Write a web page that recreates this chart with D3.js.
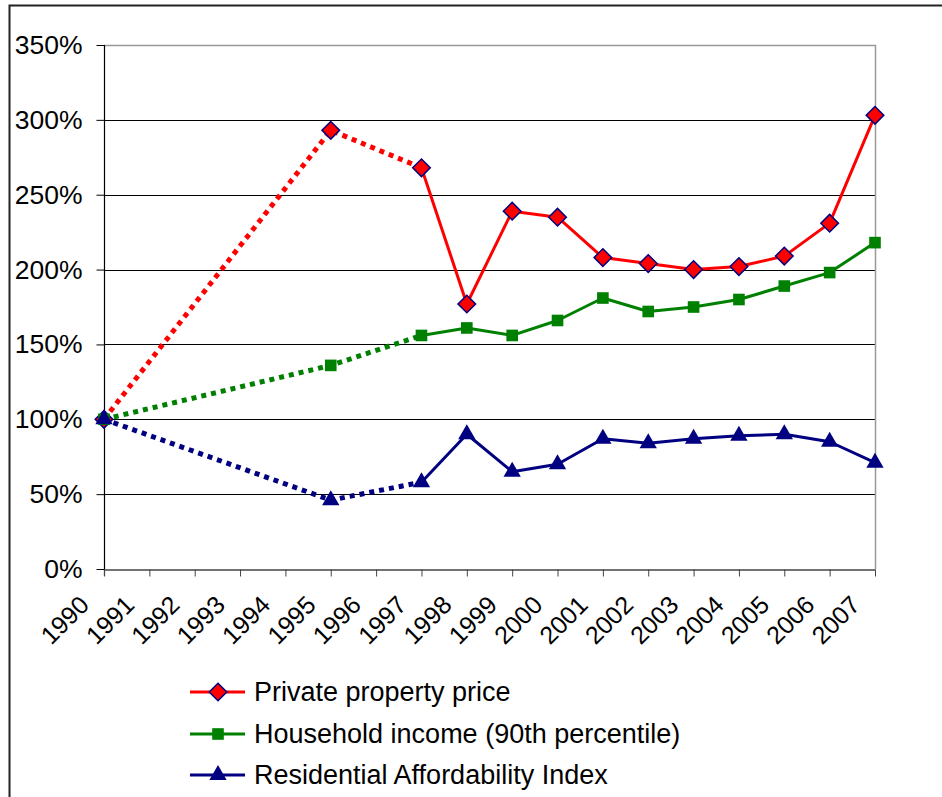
<!DOCTYPE html>
<html><head><meta charset="utf-8">
<script src="https://cdn.jsdelivr.net/npm/d3@7/dist/d3.min.js"></script>
<style>body{margin:0;background:#fff;}svg{display:block;font-family:"Liberation Sans",Arial,sans-serif;}</style>
</head><body>
<svg id="c" width="942" height="797"></svg>
<script>
const years = ["1990","1991","1992","1993","1994","1995","1996","1997","1998","1999","2000","2001","2002","2003","2004","2005","2006","2007"];
const dataYears = ["1990","1995","1997","1998","1999","2000","2001","2002","2003","2004","2005","2006","2007"];
const propertyPrice = [1.00,2.93,2.68,1.77,2.39,2.35,2.08,2.04,2.00,2.02,2.09,2.31,3.03];
const householdIncome = [1.00,1.36,1.56,1.61,1.56,1.66,1.81,1.72,1.75,1.80,1.89,1.98,2.18];
const affordability = [1.00,0.46,0.58,0.90,0.65,0.70,0.87,0.84,0.87,0.89,0.90,0.85,0.71];
const yTicks = [0,0.5,1,1.5,2,2.5,3,3.5];
const seriesNames = ["Private property price","Household income (90th percentile)","Residential Affordability Index"];

const svg = d3.select("#c");
const x = d3.scalePoint().domain(years).range([104,875]);
const y = d3.scaleLinear().domain([0,3.5]).range([569,45]);

// outer chart frame
svg.append("path").attr("d","M9.5,797 V5.5 H942").attr("fill","none").attr("stroke","#222").attr("stroke-width",2);

// gridlines
svg.append("g").selectAll("line").data(yTicks.filter(d=>d>0 && d<3.5)).join("line")
  .attr("x1",104).attr("x2",875).attr("y1",d=>Math.round(y(d))+0.5).attr("y2",d=>Math.round(y(d))+0.5)
  .attr("stroke","#000").attr("stroke-width",1);
// plot border (top, right)
svg.append("path").attr("d",`M104,${y(3.5)+0.5} H875.5 V${y(0)}`).attr("fill","none").attr("stroke","#999").attr("stroke-width",1.5);

// y axis
const yAxis = d3.axisLeft(y).tickValues(yTicks).tickFormat(d=>Math.round(d*100)+"%").tickSize(8).tickPadding(14);
const gy = svg.append("g").attr("transform","translate(104.5,0)").call(yAxis);
gy.select(".domain").attr("d",`M0,${y(3.5)}V${y(0)+7}`).attr("stroke","#000").attr("stroke-width",1.2);
gy.selectAll(".tick line").attr("stroke","#000");
gy.selectAll(".tick text").attr("font-size",26.5).attr("font-family","Liberation Sans, Arial, sans-serif").attr("fill","#000");

// x axis
const xAxis = d3.axisBottom(x).tickSize(7).tickSizeOuter(0);
const gx = svg.append("g").attr("transform",`translate(0,${Math.round(y(0))+0.5})`).call(xAxis);
gx.select(".domain").attr("stroke","#444").attr("stroke-width",1.5);
gx.selectAll(".tick line").attr("stroke","#444");
gx.selectAll(".tick text").attr("font-size",25).attr("font-family","Liberation Sans, Arial, sans-serif").attr("fill","#000")
  .attr("text-anchor","end").attr("y",0).attr("dy",0)
  .attr("transform","translate(-14,37) rotate(-45)");

const series = [
  {vals:propertyPrice, color:"#ff0000", marker:"diamond"},
  {vals:householdIncome, color:"#008000", marker:"square"},
  {vals:affordability, color:"#000080", marker:"triangle"}
];
const line = d3.line().x(d=>x(d.year)).y(d=>y(d.v));

function drawMarker(g, mtype, color, cx, cy){
  if(mtype==="diamond"){
    g.append("path").attr("d",d3.symbol(d3.symbolSquare, 155)())
      .attr("transform",`translate(${cx},${cy}) rotate(45)`).attr("fill","#ff0000").attr("stroke","#000080").attr("stroke-width",1.5);
  } else if(mtype==="square"){
    g.append("path").attr("d",d3.symbol(d3.symbolSquare,135)()).attr("transform",`translate(${cx},${cy})`).attr("fill",color);
  } else {
    g.append("path").attr("d",d3.symbol(d3.symbolTriangle,130)()).attr("transform",`translate(${cx},${cy})`).attr("fill",color);
  }
}

series.forEach(s=>{
  const pts = dataYears.map((yr,i)=>({year:yr, v:s.vals[i]}));
  const g = svg.append("g");
  g.append("path").attr("d",line(pts.slice(0,3))).attr("fill","none").attr("stroke",s.color)
    .attr("stroke-width",5).attr("stroke-dasharray","5,5");
  g.append("path").attr("d",line(pts.slice(2))).attr("fill","none").attr("stroke",s.color).attr("stroke-width",3).attr("stroke-linejoin","round");
  pts.forEach(p=>drawMarker(g, s.marker, s.color, x(p.year), y(p.v)));
});

// legend
const lg = svg.append("g");
const rowY = [692,734,775];
series.forEach((s,i)=>{
  lg.append("line").attr("x1",190).attr("x2",245).attr("y1",rowY[i]).attr("y2",rowY[i]).attr("stroke",s.color).attr("stroke-width",3);
  drawMarker(lg, s.marker, s.color, 218, rowY[i]);
  lg.append("text").attr("x",254).attr("y",rowY[i]+9).attr("font-size",27).attr("fill","#000").text(seriesNames[i]);
});
</script>
</body></html>
